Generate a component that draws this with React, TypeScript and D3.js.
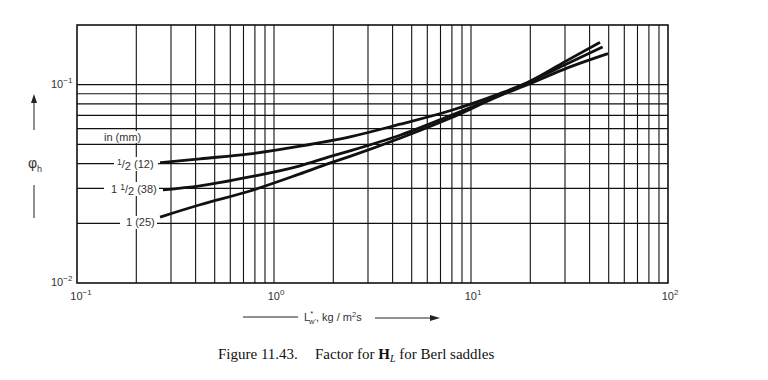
import React from "react";
import * as d3 from "d3";

// ---- data ----
const X_DOMAIN = [0.1, 100];
const Y_DOMAIN = [0.01, 0.2];
const X_TICK_VALUES = [0.1, 1, 10, 100];
const X_TICK_EXP = ["−1", "0", "1", "2"];
const Y_TICK_VALUES = [0.01, 0.1];
const Y_TICK_EXP = ["−2", "−1"];
const Y_GRID = [0.02, 0.03, 0.04, 0.05, 0.06, 0.07, 0.08, 0.09, 0.1];

// 1/2 in (12 mm)
const HALF_X = [0.264, 0.421, 0.755, 1.355, 2.43, 4.36, 7.82, 14.0, 19.9, 30.0, 45.2];
const HALF_Y = [0.0404, 0.0423, 0.0448, 0.049, 0.0546, 0.0632, 0.0739, 0.0901, 0.1041, 0.1307, 0.1635];
// 1 1/2 in (38 mm)
const ONEHALF_X = [0.273, 0.421, 0.755, 1.355, 1.92, 2.43, 4.36, 7.82, 14.0, 19.9, 30.0, 46.6];
const ONEHALF_Y = [0.0295, 0.0309, 0.0343, 0.039, 0.0434, 0.0464, 0.0556, 0.0697, 0.0885, 0.1035, 0.1262, 0.155];
// 1 in (25 mm)
const ONE_X = [0.264, 0.421, 0.755, 1.355, 1.92, 2.43, 4.36, 7.82, 14.0, 19.9, 31.1, 49.6];
const ONE_Y = [0.0215, 0.0248, 0.0291, 0.0355, 0.0402, 0.0435, 0.0537, 0.0677, 0.088, 0.1012, 0.1219, 0.1435];

const SERIES = [
  { name: "1/2 (12)", xs: HALF_X, ys: HALF_Y },
  { name: "1 1/2 (38)", xs: ONEHALF_X, ys: ONEHALF_Y },
  { name: "1 (25)", xs: ONE_X, ys: ONE_Y },
];

const W = 768;
const H = 380;
const SANS = "'Liberation Sans', Arial, Helvetica, sans-serif";
const SERIF = "'Liberation Serif', 'Times New Roman', serif";
const TXT = "#333";

export default function App() {
  const x = d3.scaleLog().domain(X_DOMAIN).range([77, 668]);
  const y = d3.scaleLog().domain(Y_DOMAIN).range([283, 25]);
  const xGrid = x.ticks().filter((v) => v > X_DOMAIN[0] * 1.0001 && v < X_DOMAIN[1] * 0.9999);
  const line = d3
    .line<[number, number]>()
    .x((d) => x(d[0]))
    .y((d) => y(d[1]))
    .curve(d3.curveMonotoneX);

  const [x0, x1] = x.range();
  const [yb, yt] = y.range();

  return (
    <svg
      width={W}
      height={H}
      style={{ position: "absolute", left: 0, top: 0, background: "#fff" }}
    >
      <rect x={0} y={0} width={W} height={H} fill="#fff" />
      {/* vertical grid */}
      {xGrid.map((v, i) => (
        <line key={"vx" + i} x1={x(v)} x2={x(v)} y1={yt} y2={yb} stroke="#111" strokeWidth={1.1} />
      ))}
      {/* horizontal grid */}
      {Y_GRID.map((v, i) => (
        <line key={"hy" + i} x1={x0} x2={x1} y1={y(v)} y2={y(v)} stroke="#111" strokeWidth={1.2} />
      ))}
      {/* frame */}
      <rect x={x0} y={yt} width={x1 - x0} height={yb - yt} fill="none" stroke="#111" strokeWidth={1.6} />

      {/* curve labels with white backgrounds */}
      <g fontFamily={SANS} fontSize={11} fill={TXT}>
        <rect x={102} y={131} width={48} height={12} fill="#fff" />
        <text x={104} y={141}>in (mm)</text>

        <rect x={114} y={157} width={44} height={14} fill="#fff" />
        <text x={117} y={168}>
          <tspan fontSize={8.5} dy={-3}>1</tspan>
          <tspan dy={3}>/</tspan>
          <tspan dy={2}>2</tspan>
          <tspan dy={-2}> (12)</tspan>
        </text>

        <rect x={104} y={182} width={55} height={14} fill="#fff" />
        <text x={111} y={193}>
          <tspan>1 </tspan>
          <tspan fontSize={8.5} dy={-3}>1</tspan>
          <tspan dy={3}>/</tspan>
          <tspan dy={2}>2</tspan>
          <tspan dy={-2}> (38)</tspan>
        </text>

        <rect x={120} y={216} width={37} height={13} fill="#fff" />
        <text x={126} y={226}>1 (25)</text>
      </g>

      {/* curves */}
      {SERIES.map((s) => (
        <path
          key={s.name}
          d={line(s.xs.map((v, i) => [v, s.ys[i]] as [number, number])) || ""}
          fill="none"
          stroke="#111"
          strokeWidth={2.8}
          strokeLinecap="butt"
        />
      ))}

      {/* tick labels */}
      <g fontFamily={SANS} fontSize={11} fill={TXT}>
        {Y_TICK_VALUES.map((v, i) => (
          <text key={"yt" + i} x={51} y={y(v) + 3}>
            10<tspan fontSize={8} dy={-5}>{Y_TICK_EXP[i]}</tspan>
          </text>
        ))}
        {X_TICK_VALUES.map((v, i) => (
          <text key={"xt" + i} x={x(v) + (i === 0 ? 4 : 2)} y={300} textAnchor="middle">
            10<tspan fontSize={8} dy={-5}>{X_TICK_EXP[i]}</tspan>
          </text>
        ))}
      </g>

      {/* y-axis label */}
      <g stroke="#222" strokeWidth={1}>
        <line x1={34} x2={34} y1={130} y2={100} />
        <line x1={34} x2={34} y1={185} y2={218} />
      </g>
      <path d="M34,94 L31,103 L37,103 Z" fill="#222" />
      <text x={28} y={168} fontFamily={SANS} fontSize={14} fill={TXT}>
        φ<tspan fontSize={9} dy={4}>h</tspan>
      </text>

      {/* x-axis label */}
      <g stroke="#222" strokeWidth={1}>
        <line x1={243} x2={298} y1={317} y2={317} />
        <line x1={375} x2={432} y1={318} y2={318} />
      </g>
      <path d="M440,318 L430,315 L430,321 Z" fill="#222" />
      <text x={304} y={321} fontFamily={SANS} fontSize={11} fill={TXT}>
        L<tspan fontSize={7.5} dy={-5}>*</tspan>
        <tspan fontSize={7.5} dx={-4} dy={8}>w'</tspan>
        <tspan dy={-3}>, kg / m</tspan>
        <tspan fontSize={7.5} dy={-4}>2</tspan>
        <tspan dy={4}>s</tspan>
      </text>

      {/* caption */}
      <text y={359} fontFamily={SERIF} fontSize={15} fill="#111">
        <tspan x={218}>Figure 11.43.</tspan>
        <tspan x={315}>Factor for </tspan>
        <tspan fontWeight="bold">H</tspan>
        <tspan fontStyle="italic" fontSize={10} dy={3}>L</tspan>
        <tspan dy={-3}> for Berl saddles</tspan>
      </text>
    </svg>
  );
}
